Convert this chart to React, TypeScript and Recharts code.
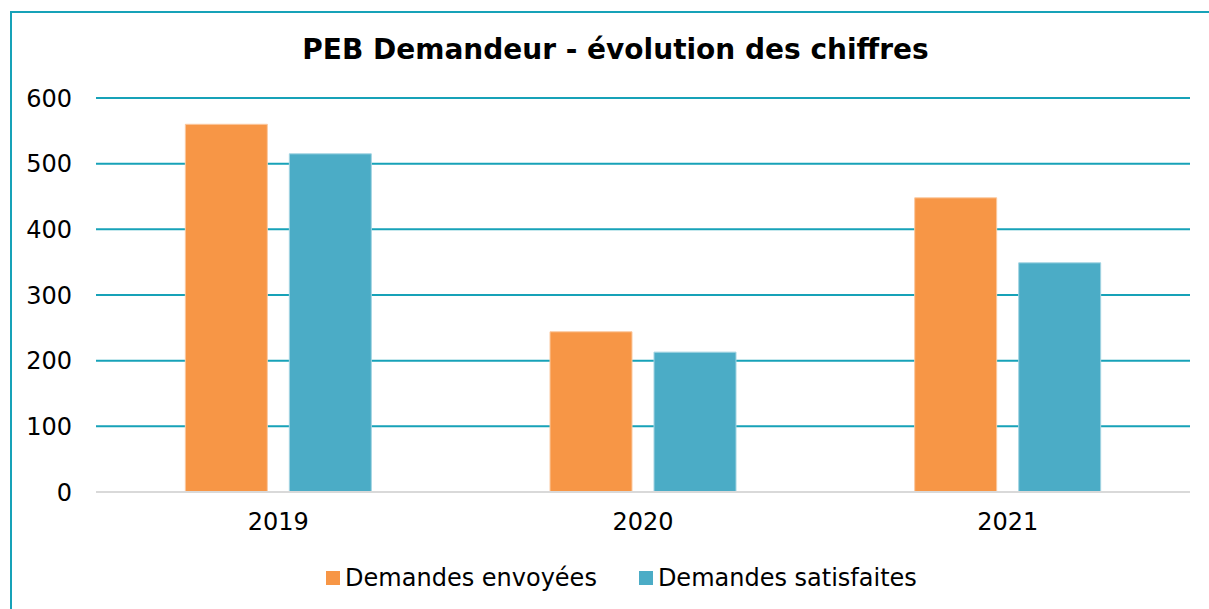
import { BarChart, Bar, XAxis, YAxis, CartesianGrid, Legend } from 'recharts';

const years = ['2019', '2020', '2021'];
const envoyees = [560, 244, 448];
const satisfaites = [515, 213, 349];
const yTicks = [0, 100, 200, 300, 400, 500, 600];

const data = years.map((year, i) => ({ year, envoyees: envoyees[i], satisfaites: satisfaites[i] }));

const FONT = 'Verdana, "DejaVu Sans", sans-serif';
const TEAL_LINE = '#17a2b8';

function LegendContent({ payload }: any) {
  return (
    <div style={{ display: 'flex', justifyContent: 'center', gap: 42, fontFamily: FONT, fontSize: 24, color: '#000' }}>
      {(payload || []).map((p: any) => (
        <div key={p.value} style={{ display: 'flex', alignItems: 'center' }}>
          <span style={{ width: 14, height: 14, background: p.color, display: 'inline-block', marginRight: 5 }} />
          <span>{p.value}</span>
        </div>
      ))}
    </div>
  );
}

export default function App() {
  return (
    <div style={{ position: 'absolute', left: 0, top: 0, width: 1209, height: 609, overflow: 'hidden', background: '#fff' }}>
      <div style={{ position: 'absolute', left: 10, top: 11, width: 1400, height: 800, border: `2px solid ${TEAL_LINE}` }} />
      <div style={{ position: 'absolute', left: 0, width: 1231, top: 33, textAlign: 'center', fontFamily: FONT, fontWeight: 'bold', fontSize: 28, color: '#000' }}>
        PEB Demandeur - évolution des chiffres
      </div>
      <div style={{ position: 'absolute', left: 0, top: 0 }}>
        <BarChart width={1209} height={609} data={data} margin={{ top: 98, right: 19, bottom: 67, left: 10 }} barCategoryGap="24.5%" barGap={22}>
          <CartesianGrid vertical={false} stroke={TEAL_LINE} strokeWidth={2} />
          <XAxis dataKey="year" axisLine={{ stroke: '#d9d9d9', strokeWidth: 2 }} tickLine={false} tickMargin={15} height={50}
            tick={{ fontSize: 24, fontFamily: FONT, fill: '#000' }} />
          <YAxis domain={[0, 600]} ticks={yTicks} axisLine={false} tickLine={false} width={86} tickMargin={18}
            tick={{ fontSize: 24, fontFamily: FONT, fill: '#000' }} />
          <Legend verticalAlign="middle" align="center" layout="horizontal" content={<LegendContent />}
            wrapperStyle={{ top: 564, left: 17, width: 1209 }} />
          <Bar dataKey="envoyees" name="Demandes envoyées" fill="#f79646" stroke="#fbc9a0" strokeWidth={1} isAnimationActive={false} />
          <Bar dataKey="satisfaites" name="Demandes satisfaites" fill="#4bacc6" stroke="#a3d4e2" strokeWidth={1} isAnimationActive={false} />
        </BarChart>
      </div>
    </div>
  );
}
